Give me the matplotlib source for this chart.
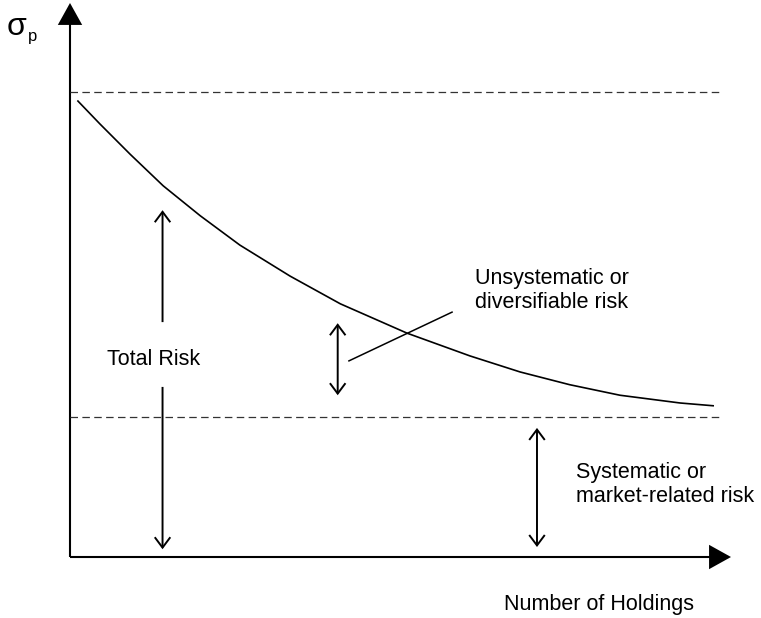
import matplotlib.pyplot as plt
from matplotlib.patches import FancyArrowPatch, ArrowStyle

plt.rcParams['font.family'] = ['Liberation Sans', 'DejaVu Sans']

# portfolio risk vs number of holdings (schematic)
holdings = [1.2, 4.5, 9.1, 14.1, 19.7, 25.7, 33.3, 40.9, 51.0, 60.5, 68.1, 75.6, 83.2, 92.3, 97.3]
sigma_p = [82.3, 78.2, 72.7, 67.0, 61.6, 56.3, 50.7, 45.7, 40.4, 36.3, 33.4, 31.1, 29.2, 27.8, 27.3]

total_level = 84.0       # upper dashed line
systematic_level = 25.3  # lower dashed line
level_end = 98.6

fig = plt.figure(figsize=(7.61, 6.18), dpi=100)
ax = fig.add_axes([0, 0, 1, 1])
ax.set_xlim(-10.59, 104.54)
ax.set_ylim(-11.01, 100.54)
ax.axis('off')

def arrow(p0, p1, style, lw=1.3):
    a = FancyArrowPatch(p0, p1, arrowstyle=style, mutation_scale=1,
                        lw=lw, color='black', shrinkA=0, shrinkB=0,
                        joinstyle='miter', capstyle='butt')
    ax.add_patch(a)

# axes with filled arrow heads
axis_head = ArrowStyle('-|>', head_length=13.5, head_width=7.5)
arrow((0, 0), (0, 100), axis_head, lw=1.5)
arrow((0, 0), (100, 0), axis_head, lw=1.5)

# dashed levels
ax.plot([0, level_end], [total_level, total_level], color='#333333', lw=0.9, dashes=(6, 3.5))
ax.plot([0, level_end], [systematic_level, systematic_level], color='#333333', lw=0.9, dashes=(6, 3.5))

# risk curve
ax.plot(holdings, sigma_p, color='black', lw=1.2, solid_joinstyle='round')

open_up = ArrowStyle('->', head_length=7.5, head_width=5.6)
open_both = ArrowStyle('<->', head_length=7.5, head_width=5.6)

# total risk arrows
arrow((14.0, 42.4), (14.0, 62.6), open_up, lw=1.4)
arrow((14.0, 30.7), (14.0, 1.4), open_up, lw=1.4)
ax.text(5.6, 34.7, 'Total Risk', fontsize=15.5, va='baseline', ha='left')

# unsystematic risk
arrow((40.5, 29.2), (40.5, 42.2), open_both, lw=1.4)
ax.plot([42.2, 57.8], [35.4, 44.2], color='black', lw=1.1)
ax.text(61.3, 49.3, 'Unsystematic or', fontsize=15.5, va='baseline', ha='left')
ax.text(61.3, 44.95, 'diversifiable risk', fontsize=15.5, va='baseline', ha='left')

# systematic risk
arrow((70.65, 1.8), (70.65, 23.3), open_both, lw=1.4)
ax.text(76.55, 14.26, 'Systematic or', fontsize=15.5, va='baseline', ha='left')
ax.text(76.55, 9.93, 'market-related risk', fontsize=15.5, va='baseline', ha='left')

# axis labels
ax.text(94.4, -9.57, 'Number of Holdings', fontsize=15.5, va='baseline', ha='right')
ax.text(-9.6, 94.2, 'σ', fontsize=23, va='baseline', ha='left')
ax.text(-6.4, 93.1, 'p', fontsize=12, va='baseline', ha='left')

fig.savefig('out.png', dpi=100)
